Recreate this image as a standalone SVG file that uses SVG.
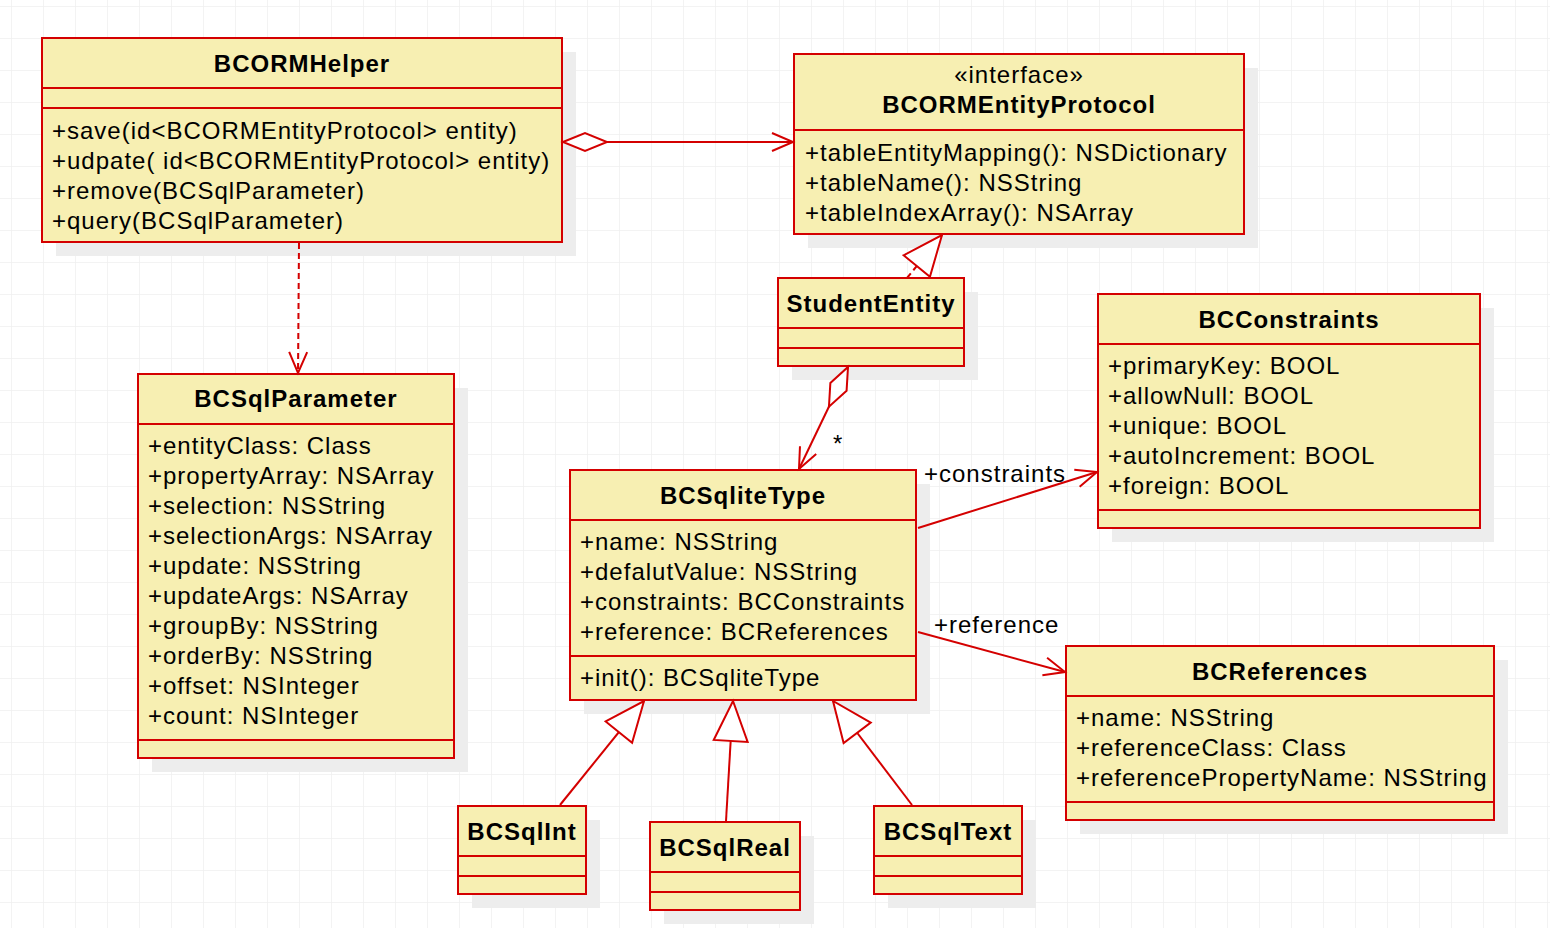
<svg xmlns="http://www.w3.org/2000/svg" width="1550" height="928" viewBox="0 0 1550 928">
<defs>
<pattern id="grid" x="11" y="6" width="32" height="32" patternUnits="userSpaceOnUse">
<path d="M0,0 H32 M0,0 V32" fill="none" stroke="#F0F0F0" stroke-width="1.5"/>
</pattern>
<marker id="open" markerUnits="userSpaceOnUse" viewBox="-24 -12 28 24" refX="0" refY="0" markerWidth="28" markerHeight="24" orient="auto" overflow="visible">
<path d="M-21,-9 L0,0 L-21,9" fill="none" stroke="#D40000" stroke-width="2" stroke-dasharray="none"/>
</marker>
<marker id="tri" markerUnits="userSpaceOnUse" viewBox="-44 -20 48 40" refX="0" refY="0" markerWidth="48" markerHeight="40" orient="auto" overflow="visible">
<path d="M-40,-17 L0,0 L-40,17 Z" fill="#FFFFFF" stroke="#D40000" stroke-width="2" stroke-dasharray="none"/>
</marker>
<marker id="diamond" markerUnits="userSpaceOnUse" viewBox="-2 -12 50 24" refX="0" refY="0" markerWidth="50" markerHeight="24" orient="auto" overflow="visible">
<path d="M0,0 L22,-9 L44,0 L22,9 Z" fill="#FFFFFF" stroke="#D40000" stroke-width="2" stroke-dasharray="none"/>
</marker>
</defs>
<style>
.box{fill:#F7EFB2;stroke:#D40000;stroke-width:2}
.sh{fill:#EDEDED}
.sep{stroke:#D40000;stroke-width:2;fill:none}
.t{font-family:"Liberation Sans",Arial,sans-serif;font-size:24px;letter-spacing:1px;fill:#000}
.b{font-weight:bold;text-anchor:middle}
.c{font-family:"Liberation Sans",Arial,sans-serif;font-size:24px;letter-spacing:1px;fill:#000;text-anchor:middle}
.ln{fill:none;stroke:#D40000;stroke-width:2}
.dash{stroke-dasharray:6 4}
</style>
<rect width="1550" height="928" fill="#FFFFFF"/>
<rect width="1550" height="928" fill="url(#grid)"/>

<g id="BCORMHelper">
<rect class="sh" x="56" y="52" width="520" height="204"/>
<rect class="box" x="42" y="38" width="520" height="204"/>
<path class="sep" d="M42,88 H562 M42,108 H562"/>
<text class="t b" x="302" y="72">BCORMHelper</text>
<text class="t" x="52" y="139">+save(id&lt;BCORMEntityProtocol&gt; entity)</text>
<text class="t" x="52" y="169">+udpate( id&lt;BCORMEntityProtocol&gt; entity)</text>
<text class="t" x="52" y="199">+remove(BCSqlParameter)</text>
<text class="t" x="52" y="229">+query(BCSqlParameter)</text>
</g>

<g id="BCORMEntityProtocol">
<rect class="sh" x="808" y="68" width="450" height="180"/>
<rect class="box" x="794" y="54" width="450" height="180"/>
<path class="sep" d="M794,130 H1244"/>
<text class="c" x="1019" y="83">«interface»</text>
<text class="t b" x="1019" y="113">BCORMEntityProtocol</text>
<text class="t" x="805" y="161">+tableEntityMapping(): NSDictionary</text>
<text class="t" x="805" y="191">+tableName(): NSString</text>
<text class="t" x="805" y="221">+tableIndexArray(): NSArray</text>
</g>

<g id="StudentEntity">
<rect class="sh" x="792" y="292" width="186" height="88"/>
<rect class="box" x="778" y="278" width="186" height="88"/>
<path class="sep" d="M778,328 H964 M778,348 H964"/>
<text class="t b" x="871" y="312">StudentEntity</text>
</g>

<g id="BCSqlParameter">
<rect class="sh" x="152" y="388" width="316" height="384"/>
<rect class="box" x="138" y="374" width="316" height="384"/>
<path class="sep" d="M138,424 H454 M138,740 H454"/>
<text class="t b" x="296" y="407">BCSqlParameter</text>
<text class="t" x="148" y="454">+entityClass: Class</text>
<text class="t" x="148" y="484">+propertyArray: NSArray</text>
<text class="t" x="148" y="514">+selection: NSString</text>
<text class="t" x="148" y="544">+selectionArgs: NSArray</text>
<text class="t" x="148" y="574">+update: NSString</text>
<text class="t" x="148" y="604">+updateArgs: NSArray</text>
<text class="t" x="148" y="634">+groupBy: NSString</text>
<text class="t" x="148" y="664">+orderBy: NSString</text>
<text class="t" x="148" y="694">+offset: NSInteger</text>
<text class="t" x="148" y="724">+count: NSInteger</text>
</g>

<g id="BCSqliteType">
<rect class="sh" x="584" y="484" width="346" height="230"/>
<rect class="box" x="570" y="470" width="346" height="230"/>
<path class="sep" d="M570,520 H916 M570,656 H916"/>
<text class="t b" x="743" y="504">BCSqliteType</text>
<text class="t" x="580" y="550">+name: NSString</text>
<text class="t" x="580" y="580">+defalutValue: NSString</text>
<text class="t" x="580" y="610">+constraints: BCConstraints</text>
<text class="t" x="580" y="640">+reference: BCReferences</text>
<text class="t" x="580" y="686">+init(): BCSqliteType</text>
</g>

<g id="BCConstraints">
<rect class="sh" x="1112" y="308" width="382" height="234"/>
<rect class="box" x="1098" y="294" width="382" height="234"/>
<path class="sep" d="M1098,344 H1480 M1098,510 H1480"/>
<text class="t b" x="1289" y="328">BCConstraints</text>
<text class="t" x="1108" y="374">+primaryKey: BOOL</text>
<text class="t" x="1108" y="404">+allowNull: BOOL</text>
<text class="t" x="1108" y="434">+unique: BOOL</text>
<text class="t" x="1108" y="464">+autoIncrement: BOOL</text>
<text class="t" x="1108" y="494">+foreign: BOOL</text>
</g>

<g id="BCReferences">
<rect class="sh" x="1080" y="660" width="428" height="174"/>
<rect class="box" x="1066" y="646" width="428" height="174"/>
<path class="sep" d="M1066,696 H1494 M1066,802 H1494"/>
<text class="t b" x="1280" y="680">BCReferences</text>
<text class="t" x="1076" y="726">+name: NSString</text>
<text class="t" x="1076" y="756">+referenceClass: Class</text>
<text class="t" x="1076" y="786">+referencePropertyName: NSString</text>
</g>

<g id="BCSqlInt">
<rect class="sh" x="472" y="820" width="128" height="88"/>
<rect class="box" x="458" y="806" width="128" height="88"/>
<path class="sep" d="M458,856 H586 M458,876 H586"/>
<text class="t b" x="522" y="840">BCSqlInt</text>
</g>

<g id="BCSqlReal">
<rect class="sh" x="664" y="836" width="150" height="88"/>
<rect class="box" x="650" y="822" width="150" height="88"/>
<path class="sep" d="M650,872 H800 M650,892 H800"/>
<text class="t b" x="725" y="856">BCSqlReal</text>
</g>

<g id="BCSqlText">
<rect class="sh" x="888" y="820" width="148" height="88"/>
<rect class="box" x="874" y="806" width="148" height="88"/>
<path class="sep" d="M874,856 H1022 M874,876 H1022"/>
<text class="t b" x="948" y="840">BCSqlText</text>
</g>

<g id="connectors">
<path class="ln" d="M563,142 L793,142" marker-start="url(#diamond)" marker-end="url(#open)"/>
<path class="ln dash" d="M299,243 L298,373" marker-end="url(#open)"/>
<path class="ln dash" d="M907,278 L942,235" marker-end="url(#tri)"/>
<path class="ln" d="M848,367 L799,469" marker-start="url(#diamond)" marker-end="url(#open)"/>
<text class="t" x="833" y="452">*</text>
<path class="ln" d="M918,528 L1097,472" marker-end="url(#open)"/>
<text class="t" x="924" y="482">+constraints</text>
<path class="ln" d="M918,632 L1065,672" marker-end="url(#open)"/>
<text class="t" x="934" y="633">+reference</text>
<path class="ln" d="M560,805 L644,701" marker-end="url(#tri)"/>
<path class="ln" d="M726,821 L733,701" marker-end="url(#tri)"/>
<path class="ln" d="M912,805 L833,701" marker-end="url(#tri)"/>
</g>
</svg>
